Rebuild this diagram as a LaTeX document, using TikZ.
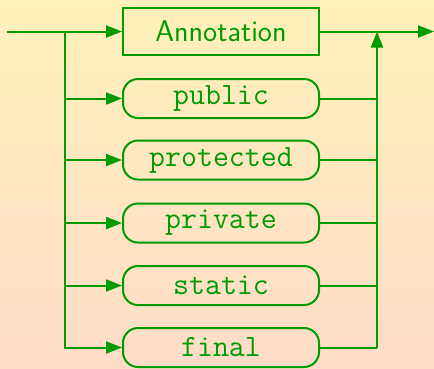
\documentclass[tikz,border=0pt]{standalone}
\usetikzlibrary{arrows.meta}
\definecolor{linegreen}{RGB}{0,155,0}
\definecolor{bgtop}{RGB}{255,241,186}
\definecolor{bgbot}{RGB}{255,220,200}
\begin{document}
\begin{tikzpicture}[x=1pt,y=-1pt,
  conn/.style={draw=linegreen,line width=2pt},
  arr/.style={conn,-{Triangle[length=16pt,width=12pt]}},
  ntbox/.style={draw=linegreen,line width=2pt,minimum width=196pt,minimum height=47pt,inner sep=0pt,text=linegreen,font=\fontsize{30}{36}\selectfont\sffamily},
  kwbox/.style={draw=linegreen,line width=2pt,rounded corners=15pt,minimum width=196pt,minimum height=39pt,inner sep=0pt,text=linegreen,font=\fontsize{31}{36}\selectfont\ttfamily}]
\shade[top color=bgtop,bottom color=bgbot] (0,0) rectangle (434,368);
\useasboundingbox (0,0) rectangle (434,368);
\node[ntbox] (ann) at (221,31.5) {Annotation};
\node[kwbox] (pub) at (221,98.5) {public};
\node[kwbox] (pro) at (221,160) {protected};
\node[kwbox] (pri) at (221,223) {private};
\node[kwbox] (sta) at (221,285.5) {static};
\node[kwbox] (fin) at (221,347.5) {final};
\coordinate (s) at (7,31.5);
\coordinate (e) at (434,31.5);
\coordinate (jl) at (65,31.5);
\coordinate (jr) at (377,31.5);
\draw[arr] (s) -- (ann.west);
\draw[arr] (ann.east) -- (e);
\draw[arr,rounded corners=0pt] (jl) |- (fin.west);
\foreach \n in {pub,pro,pri,sta}{
  \draw[arr] (jl |- \n.west) -- (\n.west);
  \draw[conn] (\n.east) -- (jr |- \n.east);
}
\draw[conn] (fin.east) -| (jr |- fin.east);
\draw[arr] (jr |- fin.east) -- (jr);
\end{tikzpicture}
\end{document}
